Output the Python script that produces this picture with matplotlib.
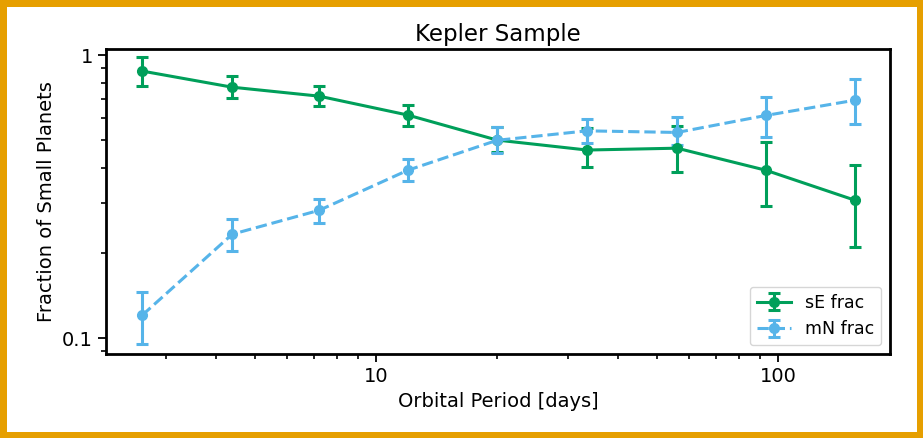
import numpy as np
import matplotlib
matplotlib.use("Agg")
import matplotlib.pyplot as plt

# bin centres (orbital period, days)
period = [2.62, 4.39, 7.22, 12.0, 20.0, 33.5, 56.1, 93.3, 155.6]

# super-Earth fraction and asymmetric errors
se_frac = [0.878, 0.770, 0.716, 0.614, 0.501, 0.462, 0.469, 0.392, 0.307]
se_hi = [0.983, 0.843, 0.779, 0.666, 0.556, 0.552, 0.560, 0.493, 0.409]
se_lo = [0.779, 0.705, 0.662, 0.561, 0.455, 0.402, 0.386, 0.293, 0.210]

# mini-Neptune fraction and asymmetric errors
mn_frac = [0.1205, 0.233, 0.283, 0.392, 0.500, 0.540, 0.533, 0.612, 0.693]
mn_hi = [0.146, 0.263, 0.311, 0.429, 0.558, 0.596, 0.602, 0.709, 0.821]
mn_lo = [0.0958, 0.203, 0.255, 0.359, 0.452, 0.488, 0.481, 0.514, 0.570]

GREEN = "#009F5A"
BLUE = "#56B4E9"
ORANGE = "#E69F00"


def err(v, lo, hi):
    v, lo, hi = map(np.asarray, (v, lo, hi))
    return [v - lo, hi - v]


fig = plt.figure(figsize=(9.23, 4.38), dpi=100)
fig.patch.set_edgecolor(ORANGE)
fig.patch.set_linewidth(8)
ax = fig.add_axes([0.1148, 0.1918, 0.8495, 0.6962])

kw = dict(marker="o", ms=7, lw=2.2, elinewidth=2.2, capsize=4, capthick=2.2)
ax.errorbar(period, se_frac, yerr=err(se_frac, se_lo, se_hi), color=GREEN,
            ls="-", label="sE frac", **kw)
ax.errorbar(period, mn_frac, yerr=err(mn_frac, mn_lo, mn_hi), color=BLUE,
            ls="--", label="mN frac", **kw)

ax.set_xscale("log")
ax.set_yscale("log")
ax.set_xlim(2.13, 190)
ax.set_ylim(0.088, 1.05)
ax.set_yticks([0.1, 1])
ax.set_yticklabels(["0.1", "1"])
ax.set_xticks([10, 100])
ax.set_xticklabels(["10", "100"])
ax.tick_params(labelsize=14, width=1.3, length=6)
ax.tick_params(which="minor", width=1.2, length=3.5)
for s in ax.spines.values():
    s.set_linewidth(2)

ax.set_xlabel("Orbital Period [days]", fontsize=14)
ax.set_ylabel("Fraction of Small Planets", fontsize=14)
ax.set_title("Kepler Sample", fontsize=16.5)
ax.legend(loc="lower right", fontsize=12.5)

fig.savefig("out.png", dpi=100)
